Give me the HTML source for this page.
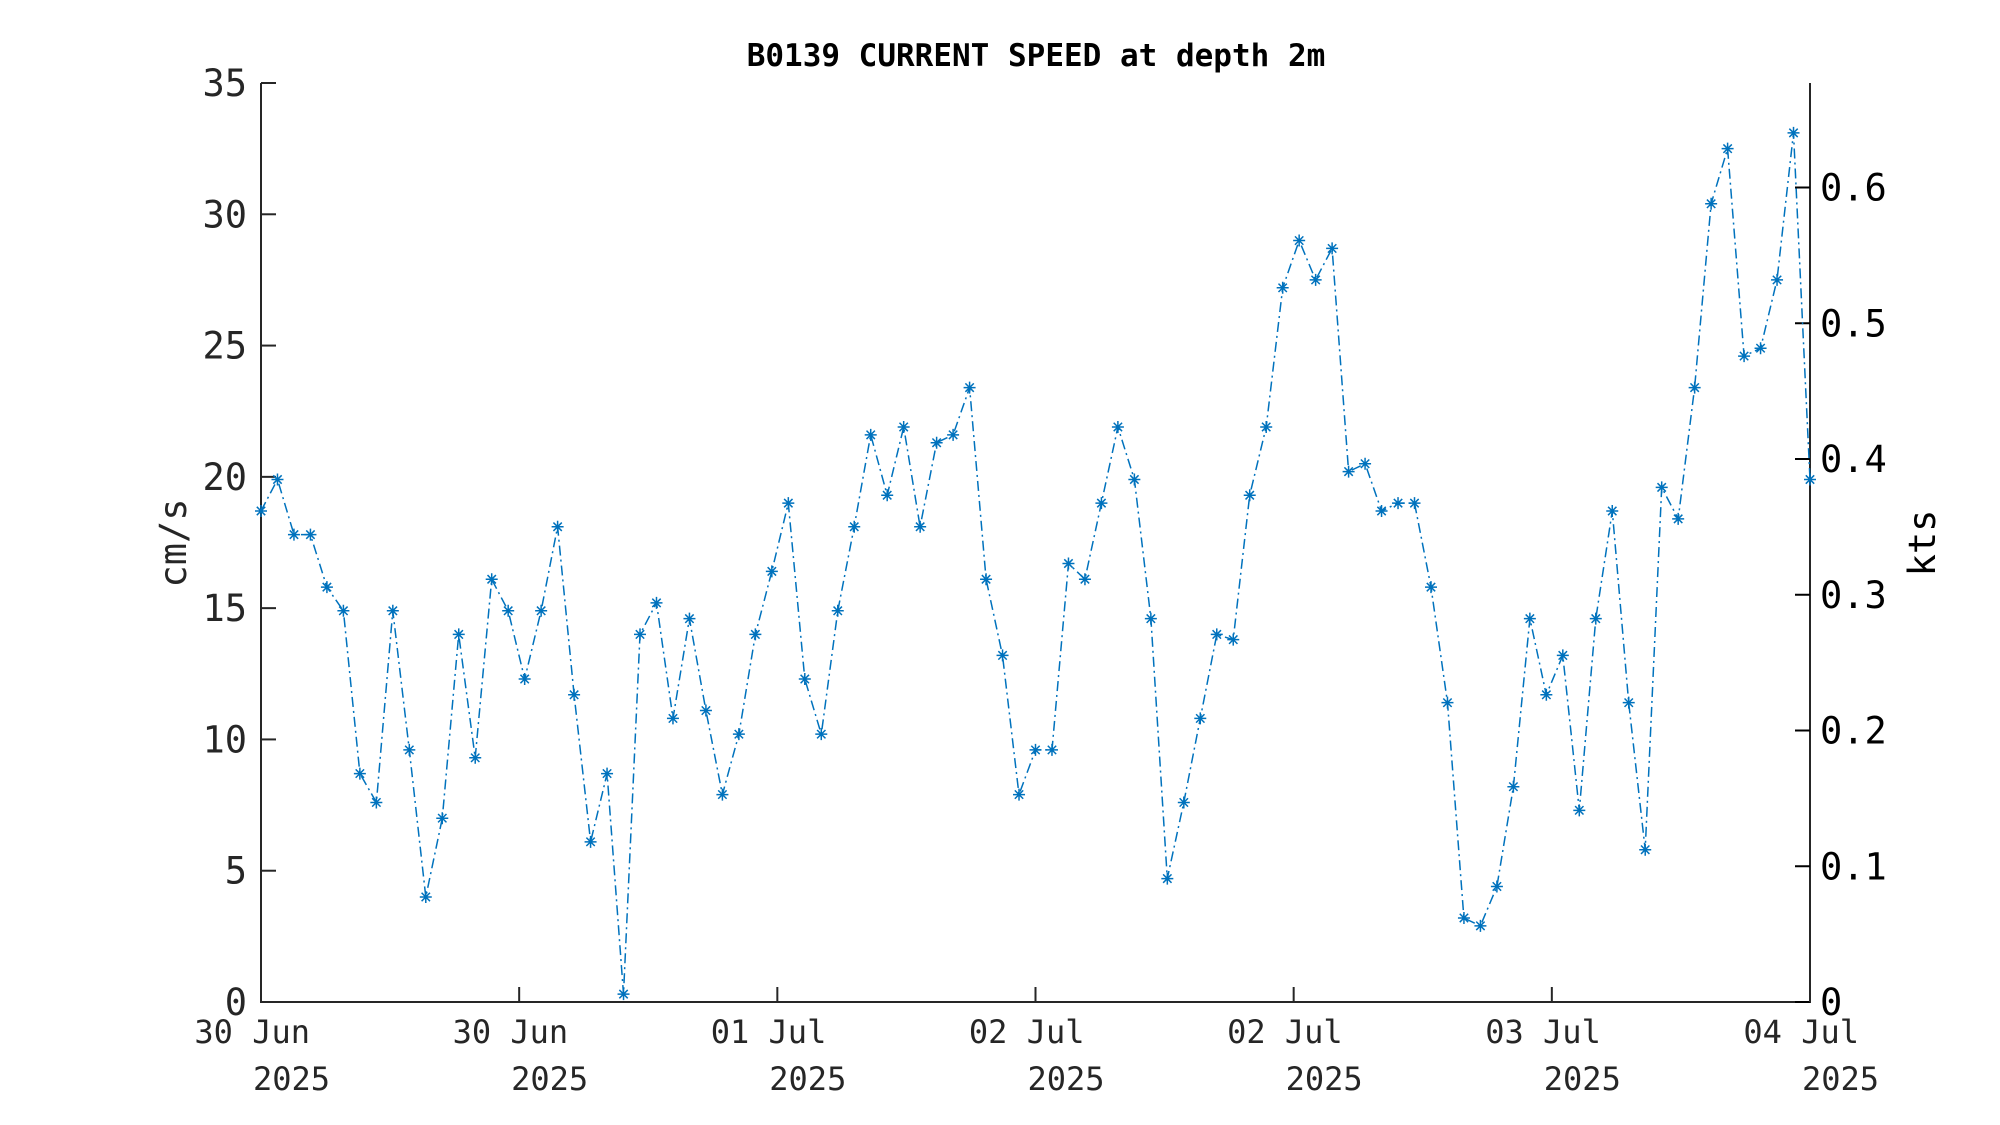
<!DOCTYPE html>
<html><head><meta charset="utf-8"><style>html,body{margin:0;padding:0;background:#fff}svg{display:block}text{font-family:"DejaVu Sans Mono","Liberation Mono",monospace}</style></head>
<body>
<svg id="chart" width="2000" height="1125" viewBox="0 0 2000 1125" xmlns="http://www.w3.org/2000/svg">
<text x="1036" y="66" text-anchor="middle" font-size="31" font-weight="bold" fill="#000">B0139 CURRENT SPEED at depth 2m</text>
<g id="axes"></g>
<g id="series"></g>
</svg>
<script>
const speeds=[18.7,19.9,17.8,17.8,15.8,14.9,8.7,7.6,14.9,9.6,4.0,7.0,14.0,9.3,16.1,14.9,12.3,14.9,18.1,11.7,6.1,8.7,0.3,14.0,15.2,10.8,14.6,11.1,7.9,10.2,14.0,16.4,19.0,12.3,10.2,14.9,18.1,21.6,19.3,21.9,18.1,21.3,21.6,23.4,16.1,13.2,7.9,9.6,9.6,16.7,16.1,19.0,21.9,19.9,14.6,4.7,7.6,10.8,14.0,13.8,19.3,21.9,27.2,29.0,27.5,28.7,20.2,20.5,18.7,19.0,19.0,15.8,11.4,3.2,2.9,4.4,8.2,14.6,11.7,13.2,7.3,14.6,18.7,11.4,5.8,19.6,18.4,23.4,30.4,32.5,24.6,24.9,27.5,33.1,19.9];
const xTickLabels=["30 Jun","30 Jun","01 Jul","02 Jul","02 Jul","03 Jul","04 Jul"];
const yTicks=[0,5,10,15,20,25,30,35];
const ktsTicks=[0,0.1,0.2,0.3,0.4,0.5,0.6];
const NS="http://www.w3.org/2000/svg";
const L=261,R=1810,T=83,B=1002,YMAX=35,KTS=51.7;
const xs=i=>L+(R-L)*i/(speeds.length-1);
const ys=v=>B-(B-T)*v/YMAX;
const ax=document.getElementById('axes'),se=document.getElementById('series');
function mk(tag,attrs,parent,txt){const e=document.createElementNS(NS,tag);for(const k in attrs)e.setAttribute(k,attrs[k]);if(txt!==undefined)e.textContent=txt;parent.appendChild(e);return e;}
let e;
e=mk('path',{d:`M${L},${T}V${B}H${R}V${T}`,fill:'none',stroke:'#262626','stroke-width':2},ax);


yTicks.forEach(v=>{const y=ys(v);
e=mk('line',{x1:L,x2:L+15,y1:y,y2:y,stroke:'#262626','stroke-width':2},ax);


e=mk('text',{x:L-14,y:y+13,'text-anchor':'end','font-size':37,fill:'#262626'},ax,String(v));


});
ktsTicks.forEach(v=>{const y=ys(v*KTS);
e=mk('line',{x1:R-15,x2:R,y1:y,y2:y,stroke:'#000','stroke-width':2},ax);


e=mk('text',{x:R+10,y:y+13,'text-anchor':'start','font-size':37,fill:'#000'},ax,String(v));


});
xTickLabels.forEach((lab,i)=>{const x=L+(R-L)*i/(xTickLabels.length-1);
e=mk('line',{x1:x,x2:x,y1:B-15,y2:B,stroke:'#262626','stroke-width':2},ax);


e=mk('text',{x:x+49,y:1043,'text-anchor':'end','font-size':32,fill:'#262626'},ax,lab);


e=mk('text',{x:x+69,y:1090,'text-anchor':'end','font-size':32,fill:'#262626'},ax,'2025');


});
e=mk('text',{x:0,y:0,transform:'translate(186,543) rotate(-90)','text-anchor':'middle','font-size':37,fill:'#262626'},ax,'cm/s');


e=mk('text',{x:0,y:0,transform:'translate(1935,543) rotate(-90)','text-anchor':'middle','font-size':37,fill:'#000'},ax,'kts');


const pts=speeds.map((v,i)=>xs(i).toFixed(1)+','+ys(v).toFixed(1)).join(' ');
e=mk('polyline',{points:pts,fill:'none',stroke:'#0072BD','stroke-width':1.5,'stroke-dasharray':'10 4 2 4'},se);


speeds.forEach((v,i)=>{const x=xs(i),y=ys(v),s=6;
e=mk('path',{d:`M${x-s},${y}H${x+s}M${x},${y-s}V${y+s}M${x-s*0.7},${y-s*0.7}L${x+s*0.7},${y+s*0.7}M${x-s*0.7},${y+s*0.7}L${x+s*0.7},${y-s*0.7}`,stroke:'#0072BD','stroke-width':1.5,fill:'none'},se);


});
</script>
</body></html>
